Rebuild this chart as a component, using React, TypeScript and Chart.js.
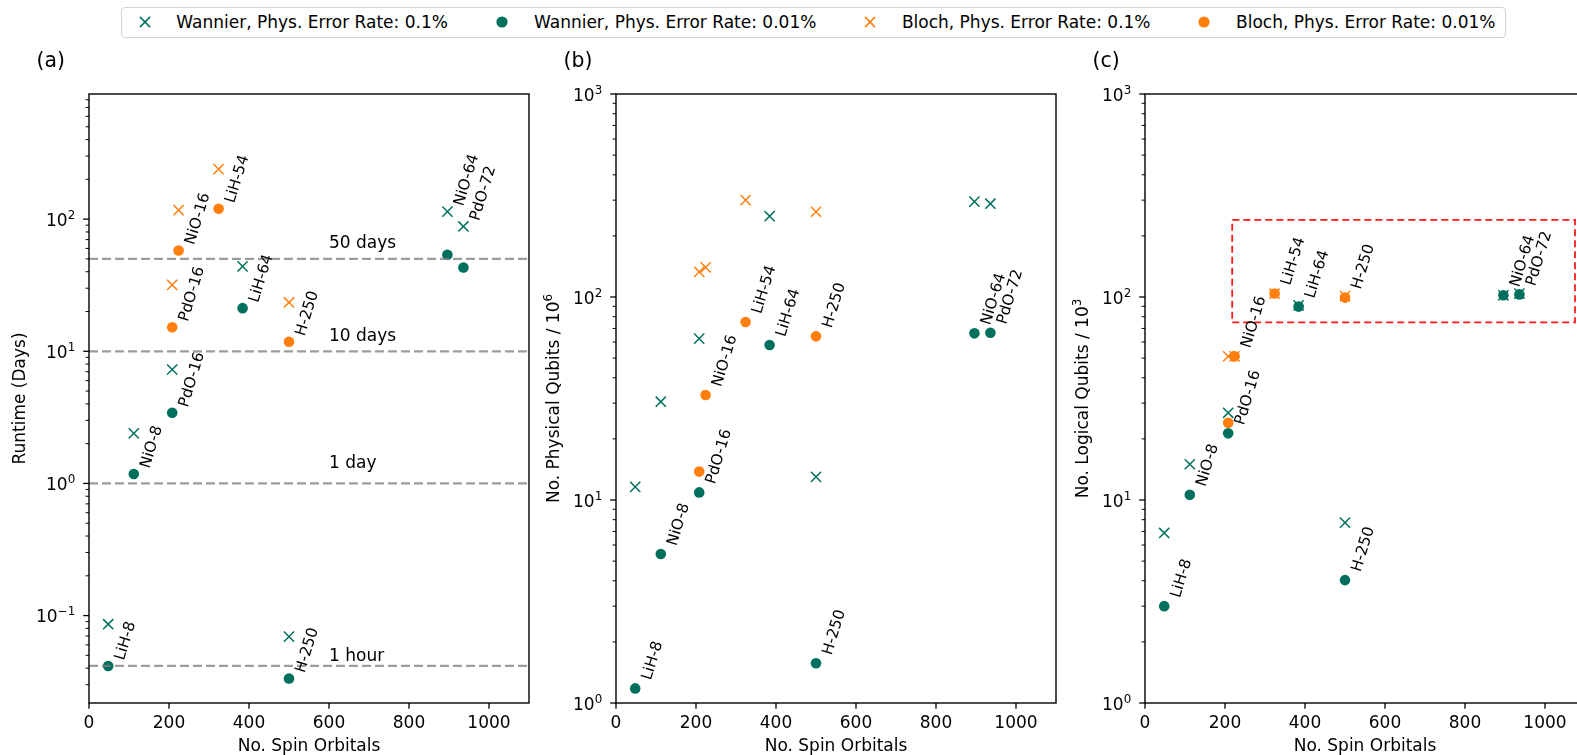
import React, { useEffect, useRef } from 'react';
import { Chart, registerables } from 'chart.js';

Chart.register(...registerables);

const FONT = '"DejaVu Sans", "Liberation Sans", sans-serif';
const TEAL = '#00705e';
const ORANGE = '#ff7f0e';
const GRAY = 'rgba(128,128,128,0.78)';
const RED = '#ff1a1a';
const AXIS_FS = 17;
const SUP_FS = 11.9;
const LABEL_FS = 15.3;
const PANEL_FS = 20.4;

// ---------------- data ----------------
const wannierNames = ['LiH-8', 'NiO-8', 'PdO-16', 'LiH-64', 'H-250', 'NiO-64', 'PdO-72'];
const wannierOrbitals = [48, 112, 208, 384, 500, 896, 936];
const blochNames = ['PdO-16', 'NiO-16', 'LiH-54', 'H-250'];
const blochOrbitals = [208, 224, 324, 500];

// (a) Runtime (days)
const runtimeWannier01 = [0.086, 2.39, 7.28, 43.9, 0.0693, 114, 88];
const runtimeWannier001 = [0.0415, 1.18, 3.42, 21.2, 0.0334, 53.7, 43];
const runtimeBloch01 = [31.8, 117, 239, 23.4];
const runtimeBloch001 = [15.2, 57.9, 119.7, 11.8];

// (b) physical qubits / 10^6
const physWannier01 = [11.6, 30.5, 62.4, 250, 13.0, 295, 288];
const physWannier001 = [1.18, 5.42, 10.9, 58, 1.57, 66.2, 66.7];
const physBloch01 = [133, 140, 300, 263];
const physBloch001 = [13.8, 32.9, 75.3, 64];

// (c) logical qubits / 10^3
const logWannier01 = [6.88, 15.0, 26.9, 91, 7.74, 102, 104];
const logWannier001 = [3.0, 10.6, 21.3, 89.7, 4.03, 102, 103];
const logBloch01 = [51, 51, 104, 101];
const logBloch001 = [24.0, 51, 104, 99.3];

// which point each name label annotates, per panel
const runtimeLabelTargets: [string, SeriesKey][] = [
  ['LiH-8', 'W001'], ['NiO-8', 'W001'], ['PdO-16', 'W001'], ['LiH-64', 'W001'], ['H-250', 'W001'],
  ['NiO-64', 'W01'], ['PdO-72', 'W01'],
  ['PdO-16', 'B001'], ['NiO-16', 'B001'], ['LiH-54', 'B001'], ['H-250', 'B001'],
];
const qubitLabelTargets: [string, SeriesKey][] = [
  ['LiH-8', 'W001'], ['NiO-8', 'W001'], ['PdO-16', 'W001'], ['LiH-64', 'W001'], ['H-250', 'W001'],
  ['NiO-64', 'W001'], ['PdO-72', 'W001'],
  ['NiO-16', 'B001'], ['LiH-54', 'B001'], ['H-250', 'B001'],
];

const xTickValues = [0, 200, 400, 600, 800, 1000];
const runtimeTickExponents = [-1, 0, 1, 2];
const qubitTickExponents = [0, 1, 2, 3];

const runtimeRefValues = [50, 10, 1, 1 / 24];
const runtimeRefTexts = ['50 days', '10 days', '1 day', '1 hour'];
const runtimeRefTextY = [60, 12, 1.3, 0.045];
const runtimeRefTextX = 600;

const highlightX = [218, 1075];
const highlightY = [75, 240];

const legendTexts = [
  'Wannier, Phys. Error Rate: 0.1%',
  'Wannier, Phys. Error Rate: 0.01%',
  'Bloch, Phys. Error Rate: 0.1%',
  'Bloch, Phys. Error Rate: 0.01%',
];

// ---------------- styling / helpers ----------------
type SeriesKey = 'W01' | 'W001' | 'B01' | 'B001';
interface PanelValues { W01: number[]; W001: number[]; B01: number[]; B001: number[]; }

const SERIES: Record<SeriesKey, { color: string; cross: boolean; order: number; legend: number }> = {
  W01: { color: TEAL, cross: true, order: 4, legend: 0 },
  W001: { color: TEAL, cross: false, order: 3, legend: 1 },
  B01: { color: ORANGE, cross: true, order: 2, legend: 2 },
  B001: { color: ORANGE, cross: false, order: 1, legend: 3 },
};
const SERIES_KEYS: SeriesKey[] = ['W01', 'W001', 'B01', 'B001'];

function seriesXs(k: SeriesKey) { return k[0] === 'W' ? wannierOrbitals : blochOrbitals; }
function seriesNames(k: SeriesKey) { return k[0] === 'W' ? wannierNames : blochNames; }

interface PanelSpec {
  key: string;
  tag: string;
  canvasLeft: number;
  canvasWidth: number;
  padRight: number;
  yMin: number;
  yMax: number;
  yTickExps: number[];
  yTitle: string;
  yTitleSup?: string;
  yTitleGap: number;
  values: PanelValues;
  labelTargets: [string, SeriesKey][];
  refLines?: boolean;
  highlight?: boolean;
}

const LABEL_ROT = 73;
const LABEL_DX = 12;
const LABEL_YF = 1.09;
const LABEL_CAP = 0.73 * LABEL_FS;
const CROSS_R = 7.2;
const DOT_R = 5.3;

function makeDecor(spec: PanelSpec) {
  return {
    id: 'decor' + spec.key,
    afterDraw(chart: any) {
      const ctx: CanvasRenderingContext2D = chart.ctx;
      const ca = chart.chartArea;
      const xs = chart.scales.x;
      const ys = chart.scales.y;
      const seg = (x1: number, y1: number, x2: number, y2: number) => {
        ctx.beginPath(); ctx.moveTo(x1, y1); ctx.lineTo(x2, y2); ctx.stroke();
      };
      ctx.save();
      ctx.fillStyle = '#000';
      ctx.strokeStyle = '#000';
      // frame
      ctx.lineWidth = 1.4;
      ctx.strokeRect(ca.left, ca.top, ca.right - ca.left, ca.bottom - ca.top);
      // x ticks + labels
      ctx.lineWidth = 1.3;
      ctx.font = `${AXIS_FS}px ${FONT}`;
      ctx.textAlign = 'center';
      ctx.textBaseline = 'alphabetic';
      xTickValues.forEach((v) => {
        const p = xs.getPixelForValue(v);
        seg(p, ca.bottom, p, ca.bottom + 5.8);
        ctx.fillText(String(v), p, ca.bottom + 25.2);
      });
      // y minor ticks
      ctx.lineWidth = 1;
      const lo = Math.floor(Math.log10(spec.yMin));
      const hi = Math.ceil(Math.log10(spec.yMax));
      for (let e = lo; e <= hi; e++) {
        for (let m = 2; m <= 9; m++) {
          const v = m * Math.pow(10, e);
          if (v < spec.yMin || v > spec.yMax) continue;
          const p = ys.getPixelForValue(v);
          seg(ca.left - 3.4, p, ca.left, p);
        }
      }
      // y major ticks + labels
      ctx.lineWidth = 1.3;
      ctx.textAlign = 'right';
      spec.yTickExps.forEach((e) => {
        const p = ys.getPixelForValue(Math.pow(10, e));
        seg(ca.left - 5.8, p, ca.left, p);
        const expStr = e < 0 ? '\u2212' + Math.abs(e) : String(e);
        ctx.font = `${SUP_FS}px ${FONT}`;
        const w = ctx.measureText(expStr).width;
        const base = p + 6.7;
        const right = ca.left - 13.8;
        ctx.fillText(expStr, right, base - 6.8);
        ctx.font = `${AXIS_FS}px ${FONT}`;
        ctx.fillText('10', right - w, base);
      });
      // x title
      ctx.font = `${AXIS_FS}px ${FONT}`;
      ctx.textAlign = 'center';
      ctx.fillText('No. Spin Orbitals', (ca.left + ca.right) / 2, ca.bottom + 48.4);
      // y title
      ctx.save();
      ctx.translate(ca.left - spec.yTitleGap, (ca.top + ca.bottom) / 2);
      ctx.rotate(-Math.PI / 2);
      ctx.textAlign = 'left';
      ctx.font = `${AXIS_FS}px ${FONT}`;
      const mw = ctx.measureText(spec.yTitle).width;
      ctx.font = `${SUP_FS}px ${FONT}`;
      const sw = spec.yTitleSup ? ctx.measureText(spec.yTitleSup).width : 0;
      const start = -(mw + sw) / 2;
      ctx.font = `${AXIS_FS}px ${FONT}`;
      ctx.fillText(spec.yTitle, start, 0);
      if (spec.yTitleSup) {
        ctx.font = `${SUP_FS}px ${FONT}`;
        ctx.fillText(spec.yTitleSup, start + mw, -6.8);
      }
      ctx.restore();
      // panel tag
      ctx.font = `${PANEL_FS}px ${FONT}`;
      ctx.textAlign = 'left';
      ctx.fillText(spec.tag, ca.left - 52.5, 67);
      // reference line texts
      if (spec.refLines) {
        ctx.font = `${AXIS_FS}px ${FONT}`;
        runtimeRefTexts.forEach((t, i) => {
          ctx.fillText(t, xs.getPixelForValue(runtimeRefTextX), ys.getPixelForValue(runtimeRefTextY[i]));
        });
      }
      // point name labels
      ctx.font = `${LABEL_FS}px ${FONT}`;
      ctx.textAlign = 'left';
      const th = (LABEL_ROT * Math.PI) / 180;
      spec.labelTargets.forEach(([name, k]) => {
        const idx = seriesNames(k).indexOf(name);
        if (idx < 0) return;
        const xv = seriesXs(k)[idx];
        const yv = spec.values[k][idx];
        const px = xs.getPixelForValue(xv + LABEL_DX) + LABEL_CAP * Math.sin(th);
        const py = ys.getPixelForValue(yv * LABEL_YF);
        ctx.save();
        ctx.translate(px, py);
        ctx.rotate(-th);
        ctx.fillText(name, 0, 0);
        ctx.restore();
      });
      ctx.restore();
    },
  };
}

function buildDatasets(spec: PanelSpec) {
  const ds: any[] = SERIES_KEYS.map((k) => {
    const s = SERIES[k];
    const xsArr = seriesXs(k);
    return {
      type: 'scatter',
      label: legendTexts[s.legend],
      data: spec.values[k].map((y, i) => ({ x: xsArr[i], y })),
      pointStyle: s.cross ? 'crossRot' : 'circle',
      pointRadius: s.cross ? CROSS_R : DOT_R,
      pointHoverRadius: s.cross ? CROSS_R : DOT_R,
      pointBorderWidth: s.cross ? 1.5 : 0,
      borderWidth: s.cross ? 1.5 : 0,
      borderColor: s.color,
      backgroundColor: s.color,
      pointBorderColor: s.color,
      pointBackgroundColor: s.color,
      showLine: false,
      order: s.order,
    };
  });
  if (spec.refLines) {
    runtimeRefValues.forEach((v) => {
      ds.push({
        type: 'scatter',
        data: [{ x: 0, y: v }, { x: 1100, y: v }],
        showLine: true,
        borderColor: GRAY,
        borderWidth: 2.2,
        borderDash: [9, 4],
        pointRadius: 0,
        pointHoverRadius: 0,
        order: 0,
      });
    });
  }
  if (spec.highlight) {
    ds.push({
      type: 'scatter',
      data: [
        { x: highlightX[0], y: highlightY[0] },
        { x: highlightX[1], y: highlightY[0] },
        { x: highlightX[1], y: highlightY[1] },
        { x: highlightX[0], y: highlightY[1] },
        { x: highlightX[0], y: highlightY[0] },
      ],
      showLine: true,
      borderColor: RED,
      borderWidth: 1.8,
      borderDash: [7, 4],
      pointRadius: 0,
      pointHoverRadius: 0,
      order: 0,
    });
  }
  return ds;
}

const PANELS: PanelSpec[] = [
  {
    key: 'a', tag: '(a)', canvasLeft: 0, canvasWidth: 545, padRight: 16,
    yMin: 0.0218, yMax: 885, yTickExps: runtimeTickExponents,
    yTitle: 'Runtime (Days)', yTitleGap: 64,
    values: { W01: runtimeWannier01, W001: runtimeWannier001, B01: runtimeBloch01, B001: runtimeBloch001 },
    labelTargets: runtimeLabelTargets, refLines: true,
  },
  {
    key: 'b', tag: '(b)', canvasLeft: 527, canvasWidth: 545, padRight: 16,
    yMin: 1, yMax: 1000, yTickExps: qubitTickExponents,
    yTitle: 'No. Physical Qubits / 10', yTitleSup: '6', yTitleGap: 57,
    values: { W01: physWannier01, W001: physWannier001, B01: physBloch01, B001: physBloch001 },
    labelTargets: qubitLabelTargets,
  },
  {
    key: 'c', tag: '(c)', canvasLeft: 1056, canvasWidth: 545, padRight: 16,
    yMin: 1, yMax: 1000, yTickExps: qubitTickExponents,
    yTitle: 'No. Logical Qubits / 10', yTitleSup: '3', yTitleGap: 57.5,
    values: { W01: logWannier01, W001: logWannier001, B01: logBloch01, B001: logBloch001 },
    labelTargets: qubitLabelTargets, highlight: true,
  },
];

const CANVAS_H = 755;
const Y_AXIS_W = 89;

function Panel({ spec }: { spec: PanelSpec }) {
  const ref = useRef<HTMLCanvasElement | null>(null);
  useEffect(() => {
    if (!ref.current) return;
    const chart = new Chart(ref.current, {
      type: 'scatter',
      data: { datasets: buildDatasets(spec) },
      options: {
        animation: false,
        responsive: false,
        maintainAspectRatio: false,
        devicePixelRatio: 1,
        events: [],
        layout: { padding: { top: 94, right: spec.padRight, bottom: 0, left: 0 } },
        plugins: { legend: { display: false }, tooltip: { enabled: false }, title: { display: false } },
        scales: {
          x: {
            type: 'linear', min: 0, max: 1100, bounds: 'data',
            ticks: { display: false }, grid: { display: false }, border: { display: false },
            afterFit: (s: any) => { s.height = 52; },
          },
          y: {
            type: 'logarithmic', min: spec.yMin, max: spec.yMax, bounds: 'data',
            ticks: { display: false }, grid: { display: false }, border: { display: false },
            afterFit: (s: any) => { s.width = Y_AXIS_W; },
          },
        },
      } as any,
      plugins: [makeDecor(spec)],
    } as any);
    return () => chart.destroy();
  }, [spec]);
  return (
    <canvas
      ref={ref}
      width={spec.canvasWidth}
      height={CANVAS_H}
      style={{ position: 'absolute', left: spec.canvasLeft, top: 0, width: spec.canvasWidth, height: CANVAS_H }}
    />
  );
}

const legendLayout = [
  { markerX: 144.6, textX: 176.3 },
  { markerX: 502, textX: 534 },
  { markerX: 870.2, textX: 901.9 },
  { markerX: 1204.3, textX: 1236 },
];

function Legend() {
  return (
    <>
      <div
        style={{
          position: 'absolute', left: 120.5, top: 7, width: 1385, height: 31, boxSizing: 'border-box',
          border: '1px solid #d2d2d2', borderRadius: 4, background: '#fff',
        }}
      />
      {SERIES_KEYS.map((k) => {
        const s = SERIES[k];
        const lay = legendLayout[s.legend];
        return (
          <React.Fragment key={k}>
            <svg
              width={14} height={14}
              style={{ position: 'absolute', left: lay.markerX - 7, top: 22.3 - 7 }}
            >
              {s.cross ? (
                <g stroke={s.color} strokeWidth={1.5}>
                  <line x1={1.9} y1={1.9} x2={12.1} y2={12.1} />
                  <line x1={12.1} y1={1.9} x2={1.9} y2={12.1} />
                </g>
              ) : (
                <circle cx={7} cy={7} r={5.6} fill={s.color} />
              )}
            </svg>
            <div
              style={{
                position: 'absolute', left: lay.textX, top: 11.9, whiteSpace: 'nowrap',
                fontFamily: FONT, fontSize: AXIS_FS, lineHeight: 'normal', color: '#000',
              }}
            >
              {legendTexts[s.legend]}
            </div>
          </React.Fragment>
        );
      })}
    </>
  );
}

export default function App() {
  return (
    <div
      style={{
        position: 'fixed', left: 0, top: 0, width: 1577, height: 755, overflow: 'hidden', background: '#fff',
      }}
    >
      {PANELS.map((p) => (
        <Panel key={p.key} spec={p} />
      ))}
      <Legend />
    </div>
  );
}
